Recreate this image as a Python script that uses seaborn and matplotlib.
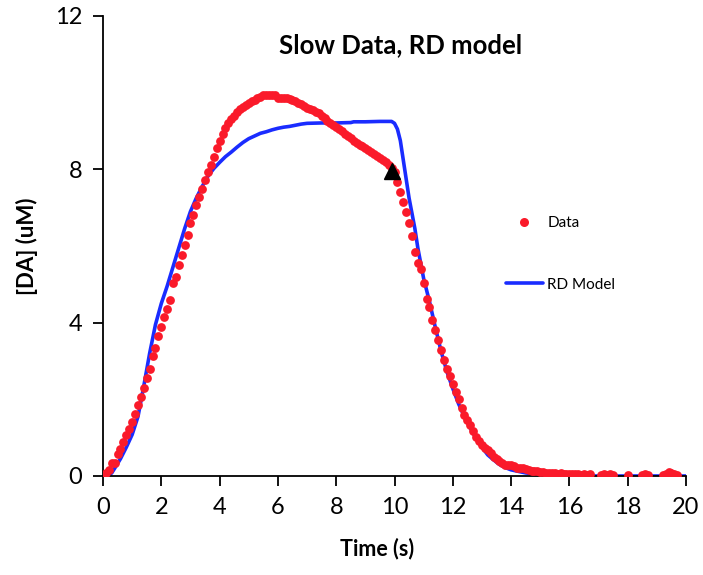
import numpy as np
import pandas as pd
import matplotlib
matplotlib.use("Agg")
import matplotlib.pyplot as plt
import seaborn as sns
from matplotlib.lines import Line2D

# ---- data ----
data_time = [round(0.1 * i, 1) for i in range(201)]
data_da = [
    0.02, 0.08, 0.15, 0.33, 0.35, 0.58, 0.70, 0.88, 1.08, 1.22,
    1.40, 1.62, 1.86, 2.07, 2.30, 2.55, 2.78, 3.13, 3.35, 3.65,
    3.90, 4.14, 4.36, 4.58, 5.03, 5.20, 5.50, 5.77, 6.03, 6.29,
    6.60, 6.80, 7.07, 7.28, 7.50, 7.72, 7.92, 8.12, 8.33, 8.56,
    8.75, 8.93, 9.08, 9.20, 9.31, 9.40, 9.50, 9.57, 9.63, 9.69,
    9.73, 9.79, 9.82, 9.86, 9.90, 9.93, 9.94, 9.95, 9.95, 9.93,
    9.87, 9.86, 9.85, 9.86, 9.84, 9.82, 9.78, 9.74, 9.70, 9.66,
    9.61, 9.58, 9.54, 9.50, 9.46, 9.40, 9.33, 9.27, 9.21, 9.15,
    9.10, 9.05, 9.00, 8.93, 8.88, 8.82, 8.75, 8.70, 8.64, 8.60,
    8.56, 8.50, 8.45, 8.41, 8.36, 8.30, 8.24, 8.18, 8.12, 8.03,
    7.93, 7.66, 7.42, 7.16, 6.88, 6.60, 6.25, 5.85, 5.56, 5.40,
    5.04, 4.62, 4.40, 4.07, 3.82, 3.56, 3.30, 3.02, 2.78, 2.62,
    2.40, 2.20, 2.00, 1.78, 1.58, 1.45, 1.32, 1.18, 1.02, 0.92,
    0.82, 0.74, 0.67, 0.60, 0.50, 0.45, 0.40, 0.33, 0.30, 0.28,
    0.29, 0.27, 0.22, 0.20, 0.20, 0.17, 0.15, 0.14, 0.12, 0.12,
    0.10, 0.10, 0.08, 0.08, 0.07, 0.07, 0.06, 0.07, 0.05, 0.06,
    0.04, 0.05, 0.04, 0.05, 0.03, 0.04, 0.03, 0.04, -0.20, -0.15,
    -0.20, 0.03, 0.04, 0.03, 0.04, 0.02, -0.20, -0.20, -0.15, -0.20,
    0.03, -0.20, -0.20, -0.15, -0.20, 0.03, 0.04, 0.02, -0.20, -0.20,
    -0.15, -0.20, 0.03, 0.05, 0.10, 0.08, 0.05, 0.03, -0.20, -0.20,
    -0.20,
]

model_time = [0.0, 0.2, 0.3, 0.4, 0.6, 0.8, 1.0, 1.2, 1.4, 1.6, 1.8, 2.0,
              2.2, 2.4, 2.6, 2.8, 3.0, 3.2, 3.4, 3.6, 3.8, 4.0, 4.2, 4.4,
              4.6, 4.8, 5.0, 5.2, 5.4, 5.6, 5.8, 6.0, 6.2, 6.4, 6.6, 6.8,
              7.0, 7.5, 8.0, 8.5, 8.6, 9.0, 9.5, 9.9, 10.0, 10.1, 10.2,
              10.3, 10.4, 10.5, 10.6, 10.7, 10.8, 10.9, 11.0, 11.2, 11.4,
              11.6, 11.8, 12.0, 12.2, 12.4, 12.6, 12.8, 13.0, 13.2, 13.4,
              13.6, 13.8, 14.0, 14.5, 15.0, 16.0, 17.0, 20.0]
model_da = [0.0, 0.02, 0.08, 0.20, 0.45, 0.75, 1.08, 1.55, 2.35, 3.20, 3.95,
            4.50, 4.95, 5.45, 5.95, 6.45, 6.90, 7.25, 7.55, 7.82, 8.02, 8.18,
            8.33, 8.45, 8.58, 8.70, 8.80, 8.87, 8.94, 8.98, 9.03, 9.07, 9.10,
            9.12, 9.15, 9.18, 9.20, 9.21, 9.21, 9.22, 9.24, 9.24, 9.25, 9.25,
            9.20, 9.05, 8.75, 8.25, 7.75, 7.25, 6.85, 6.45, 5.95, 5.55, 5.15,
            4.55, 3.88, 3.25, 2.72, 2.28, 1.88, 1.55, 1.25, 0.98, 0.75, 0.55,
            0.42, 0.30, 0.22, 0.16, 0.08, 0.04, 0.01, 0.0, 0.0]

marker_time = [9.9]
marker_da = [7.95]

x_ticks = [0, 2, 4, 6, 8, 10, 12, 14, 16, 18, 20]
y_ticks = [0, 4, 8, 12]

title = "Slow Data, RD model"
x_label = "Time (s)"
y_label = "[DA] (uM)"

# ---- styling ----
sns.set_theme(style="ticks")
plt.rcParams["font.family"] = ["Lato", "DejaVu Sans"]
plt.rcParams["text.color"] = "black"
plt.rcParams["axes.labelcolor"] = "black"

red = "#fa1a2a"
blue = "#1a2cff"

fig = plt.figure(figsize=(7.03, 5.75), dpi=100)
ax = fig.add_axes([103 / 703, 1 - 476 / 575, (686 - 103) / 703, (476 - 16) / 575])

df_data = pd.DataFrame({"t": data_time, "v": data_da})
df_model = pd.DataFrame({"t": model_time, "v": model_da})

sns.lineplot(data=df_model, x="t", y="v", ax=ax, color=blue, linewidth=2.6,
             zorder=2, legend=False)
sns.scatterplot(data=df_data, x="t", y="v", ax=ax, color=red, s=40,
                linewidth=0, zorder=3, legend=False)
ax.plot(marker_time, marker_da, marker="^", color="black", markersize=11,
        linestyle="none", zorder=4)

ax.set_xlim(0, 20)
ax.set_ylim(0, 12)
ax.set_xticks(x_ticks)
ax.set_yticks(y_ticks)
ax.tick_params(axis="both", labelsize=17, length=7, width=1.3, colors="black",
               pad=8)
for s in ["left", "bottom"]:
    ax.spines[s].set_linewidth(1.3)
    ax.spines[s].set_color("black")
sns.despine(ax=ax)

ax.set_xlabel(x_label, fontsize=15.5, fontweight="bold", labelpad=12,
              color="black")
ax.set_ylabel(y_label, fontsize=16, fontweight="bold", labelpad=12,
              color="black")
ax.xaxis.set_label_coords((377 - 103) / 583, -0.135)
ax.text((401 - 103) / 583, (476 - 45) / 460, title, transform=ax.transAxes,
        ha="center", va="center", fontsize=18.5, fontweight="bold",
        color="black")

handles = [
    Line2D([], [], marker="o", color=red, linestyle="none", markersize=6.5,
           markeredgewidth=0),
    Line2D([], [], color=blue, linewidth=2.6),
]
fig.legend(handles, ["Data", "RD Model"], loc="center left",
           bbox_to_anchor=(506 / 703, 1 - 254 / 575), frameon=False,
           fontsize=11, labelspacing=3.1, handlelength=2.4, handletextpad=0.3,
           borderpad=0, borderaxespad=0, labelcolor="black")

fig.savefig("out.png", dpi=100)
